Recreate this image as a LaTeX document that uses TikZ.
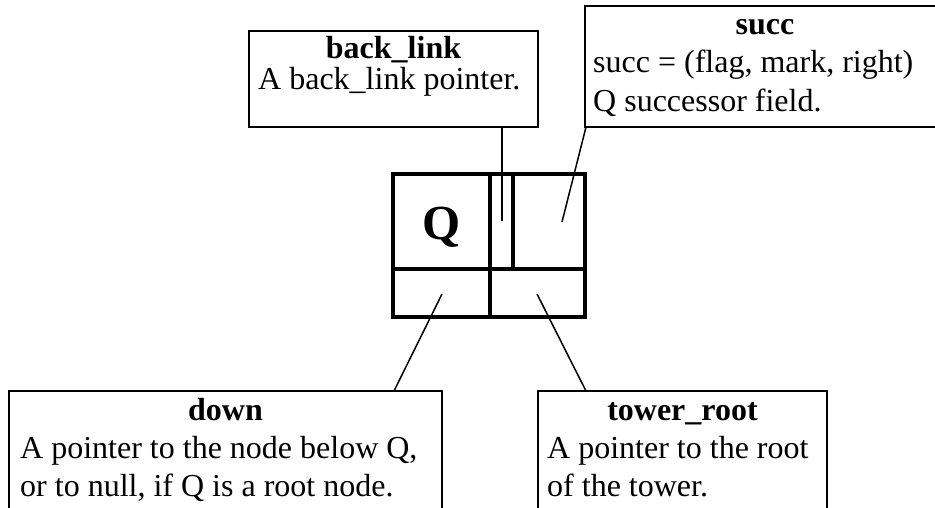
\documentclass[tikz,border=0pt]{standalone}
\usepackage{fontspec}
\setmainfont{Liberation Serif}
\begin{document}
\begin{tikzpicture}[x=1pt,y=-1pt,
  lbox/.style={draw,line width=2pt,inner sep=0pt,outer sep=0pt,anchor=north west},
  cell/.style={draw,line width=4pt,inner sep=0pt,outer sep=0pt,anchor=north west},
  head/.style={font=\fontsize{32}{38}\selectfont\bfseries,anchor=base,inner sep=0pt},
  body/.style={font=\fontsize{32}{38}\selectfont,anchor=base west,inner sep=0pt},
  link/.style={line width=1.5pt}]
\useasboundingbox (0,0) rectangle (935,508);
\clip (0,0) rectangle (935,508);

% description boxes
\node[lbox,minimum width=289pt,minimum height=96pt] (backlink) at (249,31) {};
\node[lbox,minimum width=360pt,minimum height=121pt] (succ) at (585,6) {};
\node[lbox,minimum width=433pt,minimum height=150pt] (down) at (9,391) {};
\node[lbox,minimum width=289pt,minimum height=150pt] (tower) at (538,391) {};

% texts
\node[head] (blhead) at (393.5,59) {back\_link};
\node[body] (bltext) at (258,90) {A back\_link pointer.};

\node[head] (succhead) at (765,35) {succ};
\node[body] (succtexta) at (593,73) {succ = (flag, mark, right)};
\node[body] (succtextb) at (593,112) {Q successor field.};

\node[head] (downhead) at (225.5,420) {down};
\node[body] (downtexta) at (20,458) {A pointer to the node below Q,};
\node[body] (downtextb) at (20,496) {or to null, if Q is a root node.};

\node[head] (towerhead) at (682.5,420) {tower\_root};
\node[body] (towertexta) at (547,458) {A pointer to the root};
\node[body] (towertextb) at (547,496) {of the tower.};

% the node structure
\node[cell,minimum width=97pt,minimum height=95pt] (qcell) at (393,174) {};
\node[cell,minimum width=23pt,minimum height=95pt] (blcell) at (490,174) {};
\node[cell,minimum width=72pt,minimum height=95pt] (succcell) at (513,174) {};
\node[cell,minimum width=97pt,minimum height=48pt] (downcell) at (393,269) {};
\node[cell,minimum width=95pt,minimum height=48pt] (towercell) at (490,269) {};
\node[font=\fontsize{49}{49}\selectfont\bfseries,anchor=base,inner sep=0pt] (qlabel) at (441.5,240) {Q};

% connectors
\coordinate (blend) at (502,221);
\coordinate (succend) at (562,222);
\coordinate (downend) at (442,294);
\coordinate (towerend) at (537,294);
\draw[link] (backlink.south -| blend) -- (blend);
\draw[link] ([xshift=1pt]succ.south west) -- (succend);
\draw[link] ([xshift=-48pt]down.north east) -- (downend);
\draw[link] ([xshift=48pt]tower.north west) -- (towerend);
\end{tikzpicture}
\end{document}
